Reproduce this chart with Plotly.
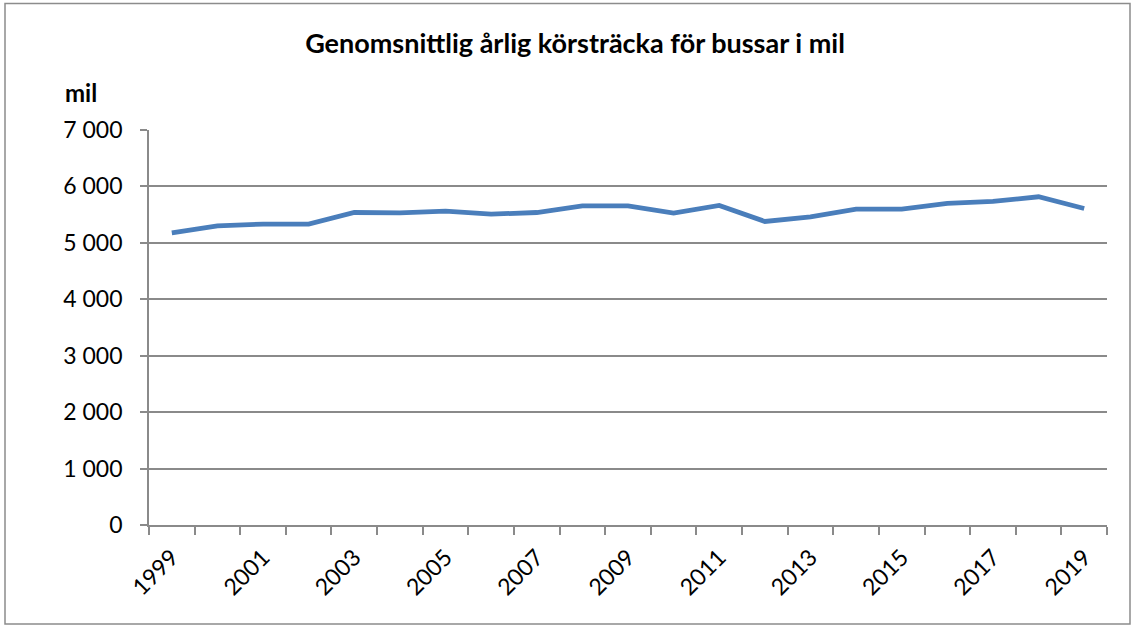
import plotly.graph_objects as go

years = [str(y) for y in range(1999, 2020)]
values = [5178, 5302, 5332, 5332, 5538, 5533, 5562, 5509, 5538, 5657, 5657,
          5527, 5663, 5379, 5460, 5598, 5598, 5698, 5734, 5817, 5609]
tick_text = [y if int(y) % 2 == 1 else "" for y in years]
y_ticks = [0, 1000, 2000, 3000, 4000, 5000, 6000, 7000]

W, H = 1134, 627
L, R, T, B = 149, 1107, 130, 525
pw, ph = R - L, B - T

def px_x(x):
    return (x - L) / pw

def px_y(y):
    return (B - y) / ph

FONT = "Lato"
GRID = "#8A8A8A"

fig = go.Figure()
fig.add_trace(go.Scatter(
    x=years, y=values, mode="lines",
    line=dict(color="#4A7EBB", width=4.8),
    hoverinfo="x+y", showlegend=False,
))

fig.update_layout(
    width=W, height=H,
    margin=dict(l=L, r=W - R, t=T, b=H - B),
    paper_bgcolor="white", plot_bgcolor="white",
    separators=", ",
    font=dict(family=FONT, color="black", size=23),
    title=dict(
        text="<b>Genomsnittlig årlig körsträcka för bussar i mil</b>",
        x=575 / W, xanchor="center", y=1 - 44 / H, yanchor="middle",
        yref="container", font=dict(family=FONT, size=27, color="black"),
    ),
    xaxis=dict(
        type="category", tickmode="array", tickvals=years, ticktext=tick_text,
        range=[-0.5, len(years) - 0.5],
        tickson="boundaries", ticks="outside", ticklen=8, tickcolor=GRID,
        tickwidth=1.5, tickangle=-45, showgrid=False, showline=True,
        linecolor=GRID, linewidth=1.8, zeroline=False, ticklabelstandoff=8,
        tickfont=dict(size=23),
    ),
    yaxis=dict(
        range=[0, 7000], tickvals=y_ticks, tickformat=",d",
        ticks="outside", ticklen=7, tickcolor=GRID, tickwidth=1.5,
        showline=True, linecolor=GRID, linewidth=1.8, showgrid=True,
        gridcolor=GRID, gridwidth=1.7, zeroline=False, ticklabelstandoff=13,
        tickfont=dict(size=23),
    ),
    annotations=[dict(
        text="<b>mil</b>", x=px_x(63), y=px_y(93), xref="paper", yref="paper",
        xanchor="left", yanchor="middle", showarrow=False,
        font=dict(family=FONT, size=24, color="black"),
    )],
    shapes=[dict(
        type="rect", xref="paper", yref="paper",
        x0=px_x(5), x1=px_x(1130), y0=px_y(3.5), y1=px_y(624),
        line=dict(color="#8C8C8C", width=1.5), fillcolor="rgba(0,0,0,0)",
        layer="below",
    )],
)

fig.write_html("out.html", config={"displayModeBar": False},
               post_script="document.body.style.margin='0';")
